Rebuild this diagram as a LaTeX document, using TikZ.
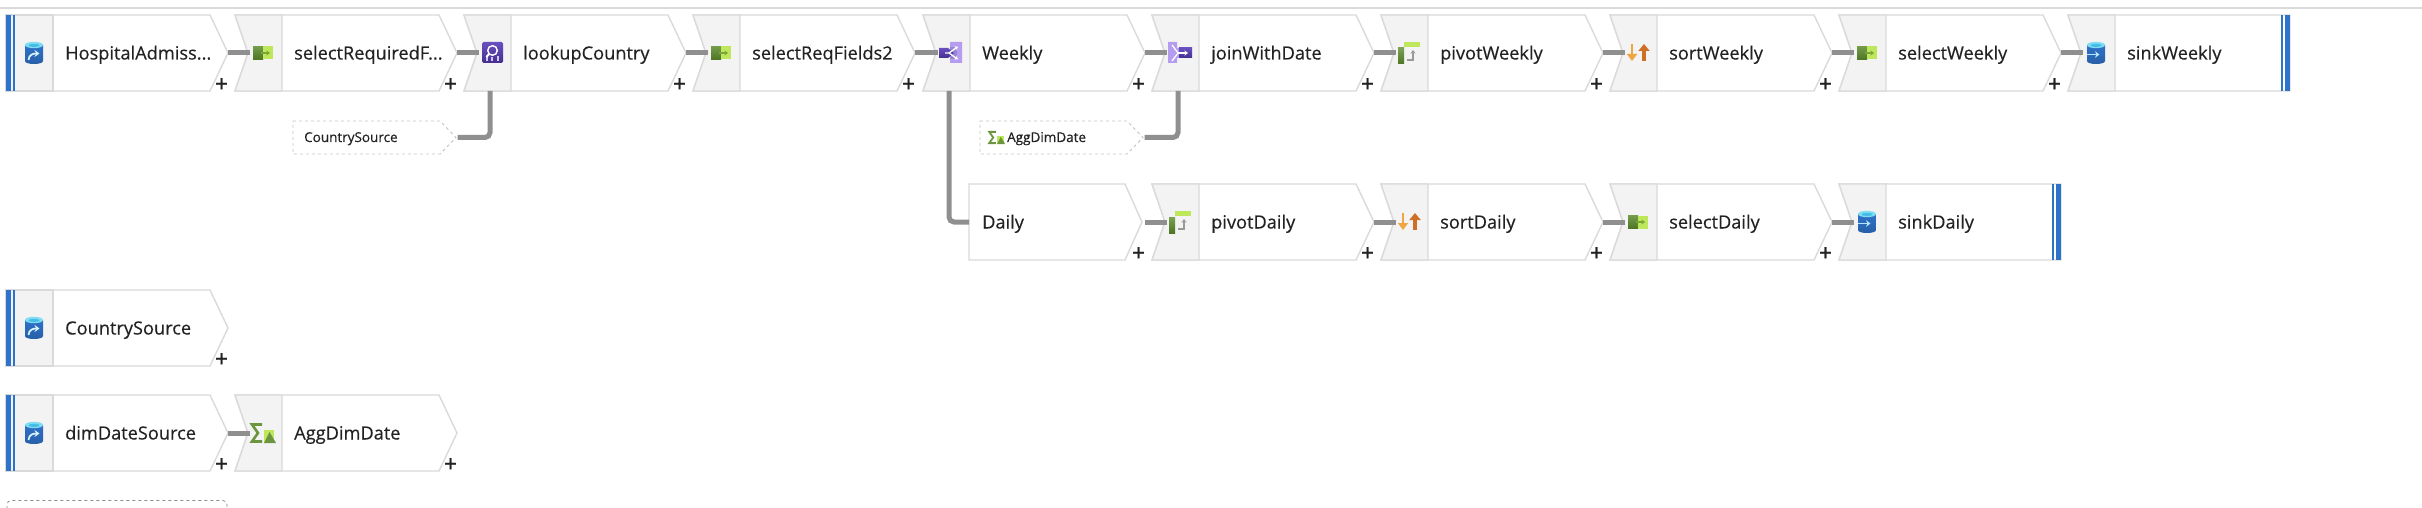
\documentclass[tikz,border=0pt]{standalone}
\usepackage{fontspec}
\setmainfont{Open Sans}
\newfontfamily\labelfont[FakeBold=0.35]{Open Sans}
\usetikzlibrary{arrows.meta}
\definecolor{shellc}{HTML}{DADADA}
\definecolor{panelc}{HTML}{F3F3F3}
\definecolor{linkc}{HTML}{8F8F8F}
\definecolor{barc}{HTML}{2F72C9}
\definecolor{inkc}{HTML}{222222}
\definecolor{gdark}{HTML}{5B8A2A}
\definecolor{glight}{HTML}{BEE75C}
\definecolor{pdark}{HTML}{44308F}
\definecolor{pmid}{HTML}{6A4FC0}
\definecolor{plight}{HTML}{B49CF0}
\definecolor{sortlight}{HTML}{F0A640}
\definecolor{sortdark}{HTML}{CF6F26}
\definecolor{cyltop}{HTML}{7FDDF2}
\definecolor{cylin}{HTML}{45BDE6}
\tikzset{
  shell/.style={draw=shellc,line width=1.4pt,fill=white,line join=miter},
  panel/.style={draw=shellc,line width=1.4pt,fill=panelc},
  barfill/.style={fill=barc,draw=none},
  bodyarea/.style={minimum width=222pt,minimum height=76pt,inner sep=0pt,outer sep=0pt},
  flowlabel/.style={anchor=base west,inner sep=0pt,text=inkc,font=\labelfont\fontsize{18.2}{20}\selectfont},
  plusmark/.style={inner sep=0pt,text=inkc,font=\labelfont\fontsize{23}{24}\selectfont},
  link/.style={draw=linkc,line width=5pt},
  elbow/.style={link,rounded corners=5pt},
  refbox/.style={minimum width=163pt,minimum height=33pt,inner sep=0pt,outer sep=0pt},
  refshell/.style={draw=shellc!90!black,line width=.9pt,dash pattern=on 3pt off 3pt,fill=white},
  reflabel/.style={anchor=base west,inner sep=0pt,text=inkc,font=\labelfont\fontsize{13.5}{15}\selectfont},
  sigma stroke/.style={line width=2.6pt},
  every picture/.append style={x=1pt,y=-1pt}
}
% ---------- icons, drawn about (0,0) ----------
\newcommand{\cylbody}{%
  \shade[top color=barc,bottom color=barc!82!black] (-9,-8) -- (-9,8) .. controls (-9,12) and (9,12) .. (9,8) -- (9,-8) -- cycle;
  \fill[cyltop] (0,-8) ellipse [x radius=9,y radius=3.2];
  \fill[cylin] (0,-7.6) ellipse [x radius=5.5,y radius=1.6];
}
\newcommand{\iconsource}{\cylbody
  \draw[white!85!cyan,line width=1.7pt,-{Stealth[length=5pt,width=7pt]}] (-5.5,7) .. controls (-5,1.5) and (-1,.5) .. (5.5,.5);
}
\newcommand{\iconsink}{\cylbody
  \draw[white!70!cyan,line width=1.7pt,-{Stealth[length=4.5pt,width=6.5pt]}] (-9,1.5) -- (3.5,1.5);
}
\newcommand{\iconselect}{%
  \shade[top color=gdark!85!white,bottom color=gdark!85!black] (-10,-6.5) rectangle (0,6.5);
  \fill[glight] (0,-6.5) rectangle (10,6.5);
  \draw[gdark!70!glight,line width=1.1pt,-{Stealth[length=3.5pt,width=5pt]}] (-2,0) -- (7,0);
}
\newcommand{\iconlookup}{%
  \shade[top color=pmid,bottom color=pdark,rounded corners=1.5pt] (-10,-11) rectangle (11,10);
  \fill[plight!60!white] (-6,3) rectangle (-4,8);
  \fill[plight!60!white] (-.6,4) rectangle (1.4,8);
  \fill[plight!60!white] (5,3) rectangle (7,8);
  \draw[white,line width=1.4pt] (.5,-2.5) circle [radius=4.8];
  \draw[white,line width=2pt] (-3,1) -- (-5.5,4);
}
\newcommand{\iconsplit}{%
  \fill[plight] (-1,-11) -- (11,-11) -- (11,10) -- (-1,10) -- (-1,6) -- (6,6) -- (6,-6) -- (-1,-6) -- cycle;
  \fill[plight] (4,-6) rectangle (8,6);
  \fill[pmid!70!white] (-1,-6) -- (6,-6) -- (6,6) -- (-1,6) -- cycle;
  \shade[top color=pmid,bottom color=pdark] (-12,-5) -- (-3,-5) -- (3,0) -- (-3,5) -- (-12,5) -- cycle;
  \draw[white,line width=1.3pt,-{Stealth[length=3.5pt,width=4.5pt]}] (-6,0) -- (-2,0) -- (7,-6.5);
  \draw[white,line width=1.3pt,-{Stealth[length=3.5pt,width=4.5pt]}] (-2,0) -- (7,6.5);
}
\newcommand{\iconjoin}{%
  \fill[plight] (-12,-11) -- (-3,-11) -- (-3,-5) -- (1,-5) -- (1,5) -- (-3,5) -- (-3,10) -- (-12,10) -- cycle;
  \shade[top color=pmid,bottom color=pdark] (-1,-5) -- (12,-5) -- (12,5) -- (-1,5) -- cycle;
  \draw[white,line width=1.3pt] (-8,-8) -- (-2,0);
  \draw[white,line width=1.3pt] (-8,8) -- (-2,0);
  \draw[white,line width=1.3pt,-{Stealth[length=3.5pt,width=5pt]}] (-2,0) -- (8,0);
}
\newcommand{\iconpivot}{%
  \shade[top color=gdark!80!white,bottom color=gdark!85!black] (-11,-5) rectangle (-5,11);
  \fill[glight] (-5,-11) rectangle (11,-6);
  \draw[black!40,line width=1.5pt,-{Stealth[length=3.5pt,width=5pt]}] (-2,7) -- (4,7) -- (4,-3);
}
\newcommand{\iconsort}{%
  \draw[sortlight,line width=2.6pt,-{Stealth[length=7pt,width=10pt,inset=0pt]}] (-6,-9) -- (-6,8);
  \draw[sortdark,line width=3.4pt,-{Stealth[length=7pt,width=11pt,inset=0pt]}] (6,8) -- (6,-9);
}
\newcommand{\iconagg}{%
  \draw[gdark!90!white,sigma stroke,line join=miter] (-1,-8.5) -- (-11,-8.5) -- (-5,0) -- (-11,8.5) -- (-1,8.5);
  \fill[glight] (1,-3) rectangle (11,10);
  \fill[gdark!90!white] (6.5,-1) -- (13,10) -- (1,10) -- cycle;
}
% ---------- flow-node parts ----------
\newcommand{\nodebits}[4]{% name, x0, y, label
  \node[bodyarea] (#1) at (#2+111,#3) {};
  \coordinate (#1-in) at (#2+15,#3);
  \coordinate (#1-s) at (#2+26,#3+38);
  \node[flowlabel] (#1-t) at (#2+59,#3+6.5) {#4};
}
\newcommand{\plusbit}[3]{\node[plusmark] (#1-p) at (#2+215.5,#3+32) {+};}
\newcommand{\iconbit}[3]{\begin{scope}[shift={(#1+28,#2)}]#3\end{scope}}
% source: name x0 y label icon
\newcommand{\flowsource}[5]{%
  \draw[shell] (#2,#3-38) -- (#2+204,#3-38) -- (#2+222,#3) -- (#2+204,#3+38) -- (#2,#3+38) -- cycle;
  \draw[panel] (#2,#3-38) rectangle (#2+47,#3+38);
  \fill[barfill] (#2,#3-38) rectangle (#2+5,#3+38);
  \fill[barfill] (#2+7,#3-38) rectangle (#2+9,#3+38);
  \iconbit{#2}{#3}{#5}\nodebits{#1}{#2}{#3}{#4}\plusbit{#1}{#2}{#3}}
% middle: name x0 y label icon
\newcommand{\flowmid}[5]{%
  \draw[shell] (#2,#3-38) -- (#2+204,#3-38) -- (#2+222,#3) -- (#2+204,#3+38) -- (#2,#3+38) -- (#2+13,#3) -- cycle;
  \draw[panel] (#2,#3-38) -- (#2+47,#3-38) -- (#2+47,#3+38) -- (#2,#3+38) -- (#2+13,#3) -- cycle;
  \iconbit{#2}{#3}{#5}\nodebits{#1}{#2}{#3}{#4}\plusbit{#1}{#2}{#3}}
% sink: name x0 y label icon
\newcommand{\flowsink}[5]{%
  \draw[shell] (#2,#3-38) -- (#2+222,#3-38) -- (#2+222,#3+38) -- (#2,#3+38) -- (#2+13,#3) -- cycle;
  \draw[panel] (#2,#3-38) -- (#2+47,#3-38) -- (#2+47,#3+38) -- (#2,#3+38) -- (#2+13,#3) -- cycle;
  \fill[barfill] (#2+213,#3-38) rectangle (#2+215,#3+38);
  \fill[barfill] (#2+217,#3-38) rectangle (#2+222,#3+38);
  \iconbit{#2}{#3}{#5}\nodebits{#1}{#2}{#3}{#4}}
% branch without icon panel
\newcommand{\flowplain}[4]{%
  \draw[shell] (#2+46,#3-38) -- (#2+202,#3-38) -- (#2+219,#3) -- (#2+202,#3+38) -- (#2+46,#3+38) -- cycle;
  \nodebits{#1}{#2}{#3}{#4}\plusbit{#1}{#2}{#3}
  \coordinate (#1-in) at (#2+46,#3);}
% dashed reference: name x y
\newcommand{\refshape}[3]{%
  \draw[refshell] (#2,#3-16.5) -- (#2+147,#3-16.5) -- (#2+163,#3) -- (#2+147,#3+16.5) -- (#2,#3+16.5) -- cycle;
  \node[refbox] (#1) at (#2+81.5,#3) {};}
\begin{document}
\begin{tikzpicture}
\useasboundingbox (0,0) rectangle (2422,508);
\fill[white] (0,0) rectangle (2422,508);
\draw[shellc,line width=2pt] (0,8) -- (2422,8);
% top row
\flowsource{hosp}{6}{53}{HospitalAdmiss...}{\iconsource}
\flowmid{selReq}{235}{53}{selectRequiredF...}{\iconselect}
\flowmid{lookup}{464}{53}{lookupCountry}{\iconlookup}
\flowmid{selReqTwo}{693}{53}{selectReqFields2}{\iconselect}
\flowmid{weekly}{923}{53}{Weekly}{\iconsplit}
\flowmid{join}{1152}{53}{joinWithDate}{\iconjoin}
\flowmid{pivotW}{1381}{53}{pivotWeekly}{\iconpivot}
\flowmid{sortW}{1610}{53}{sortWeekly}{\iconsort}
\flowmid{selW}{1839}{53}{selectWeekly}{\iconselect}
\flowsink{sinkW}{2068}{53}{sinkWeekly}{\iconsink}
% daily row
\flowplain{daily}{923}{222}{Daily}
\flowmid{pivotD}{1152}{222}{pivotDaily}{\iconpivot}
\flowmid{sortD}{1381}{222}{sortDaily}{\iconsort}
\flowmid{selD}{1610}{222}{selectDaily}{\iconselect}
\flowsink{sinkD}{1839}{222}{sinkDaily}{\iconsink}
% other streams
\flowsource{country}{6}{328}{CountrySource}{\iconsource}
\flowsource{dimDate}{6}{433}{dimDateSource}{\iconsource}
\flowmid{agg}{235}{433}{AggDimDate}{\iconagg}
% references
\refshape{refCountry}{293}{137.5}
\node[reflabel] (refCountry-t) at (304,142) {CountrySource};
\refshape{refAgg}{980}{137.5}
\begin{scope}[shift={(996.5,137.5)},scale=.66,sigma stroke/.style={line width=1.8pt}]\iconagg\end{scope}
\node[reflabel] (refAgg-t) at (1007,142) {AggDimDate};
% bottom clipped dashed box
\begin{scope}
\clip (0,0) rectangle (2422,508);
\draw[black!45,line width=.8pt,dash pattern=on 3pt off 3pt,rounded corners=4pt] (7,515) -- (7,500.5) -- (227,500.5) -- (227,515);
\end{scope}
% connectors
\draw[link] (hosp.east) -- (selReq-in);
\draw[link] (selReq.east) -- (lookup-in);
\draw[link] (lookup.east) -- (selReqTwo-in);
\draw[link] (selReqTwo.east) -- (weekly-in);
\draw[link] (weekly.east) -- (join-in);
\draw[link] (join.east) -- (pivotW-in);
\draw[link] (pivotW.east) -- (sortW-in);
\draw[link] (sortW.east) -- (selW-in);
\draw[link] (selW.east) -- (sinkW-in);
\draw[link] (daily.east) -- (pivotD-in);
\draw[link] (pivotD.east) -- (sortD-in);
\draw[link] (sortD.east) -- (selD-in);
\draw[link] (selD.east) -- (sinkD-in);
\draw[link] (dimDate.east) -- (agg-in);
\draw[elbow,shorten >=1.5pt] (lookup-s) |- (refCountry.east);
\draw[elbow,shorten >=1.5pt] (join-s) |- (refAgg.east);
\draw[elbow] (weekly-s) |- (daily-in);
\end{tikzpicture}
\end{document}
